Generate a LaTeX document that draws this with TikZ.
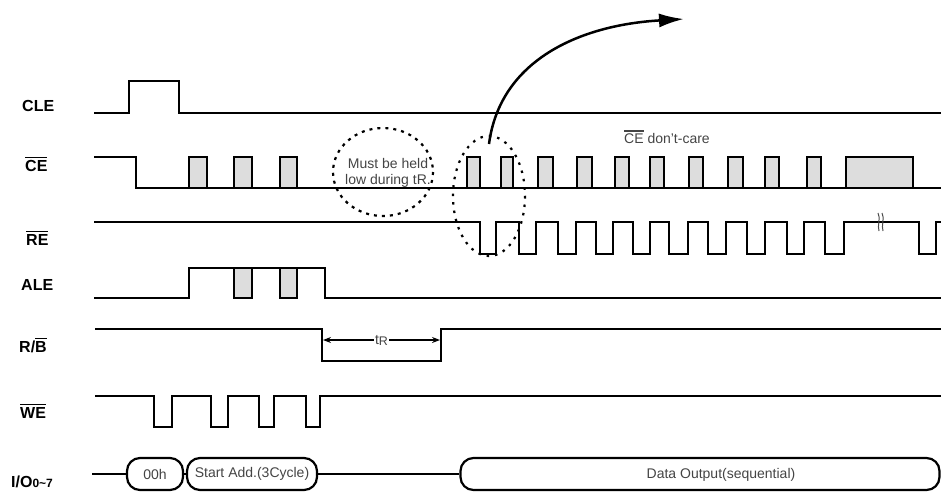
\documentclass[tikz,border=0pt]{standalone}
\usepackage{fontspec}
\setmainfont{Liberation Sans}
\usetikzlibrary{arrows.meta}
\definecolor{pulsegray}{HTML}{DDDDDD}
\definecolor{txtgray}{HTML}{444444}
\newcommand\ovl[1]{\setbox0\hbox{#1}\rlap{\raisebox{\dimexpr\ht0+1.6pt\relax}{\rule{\wd0}{1.3pt}}}\box0\relax}
\begin{document}
\begin{tikzpicture}[x=1pt,y=-1pt,
  sig/.style={line width=2.6pt, line join=miter},
  sigthin/.style={line width=1.7pt},
  lbl/.style={anchor=base west, inner sep=0pt, font=\fontsize{16}{19}\selectfont\bfseries},
  note/.style={inner sep=0pt, text=txtgray, font=\fontsize{14}{16}\selectfont},
  bubble/.style={draw, line width=2.2pt, rounded corners=13pt, minimum height=32pt, inner sep=0pt, text=txtgray, font=\fontsize{14}{16}\selectfont},
  pulsebox/.style={fill=pulsegray},
  hold/.style={line width=2.2pt, dash pattern=on 3pt off 5pt},
  timing/.style={line width=1.1pt, {Stealth[length=8pt,width=6pt]}-{Stealth[length=8pt,width=6pt]}}
]
\useasboundingbox (0,0) rectangle (941,491);

% labels
\node[lbl] (lcle) at (22,111) {CLE};
\node[lbl] (lce) at (25,171) {\ovl{CE}};
\node[lbl] (lre) at (26,245) {\ovl{RE}};
\node[lbl] (lale) at (21,290) {ALE};
\node[lbl] (lrb) at (19,352) {R/\ovl{B}};
\node[lbl] (lwe) at (20,418) {\ovl{WE}};
\node[lbl] (lio) at (11,487) {I/O{\fontsize{12}{13}\selectfont 0\textasciitilde 7}};

% CLE
\draw[sig] (94,113) -- (129,113) -- (129,81) -- (179,81) -- (179,113) -- (941,113);

% CE
\foreach \a/\b in {189/207,234/252,280/297,467/480,501/513,538/553,577/592,615/629,650/664,689/703,728/743,765/779,807/821,846/913}{
  \fill[pulsebox] (\a,157) rectangle (\b,188);
  \draw[sig] (\a,188) -- (\a,157) -- (\b,157) -- (\b,188);
}
\draw[sig] (94,157) -- (136,157) -- (136,188);
\draw[sigthin] (135,188) -- (941,188);
\node[note, anchor=base] (dc) at (667,143) {\ovl{CE} don't-care};

% RE
\draw[sig] (94,222) foreach \a/\b in {480/496,519/536,558/576,596/613,633/650,669/688,708/726,747/765,787/804,825/844,919/936} { -- (\a,222) -- (\a,254) -- (\b,254) -- (\b,222) } -- (941,222);
\draw[black!70, line width=1pt] (878,213) .. controls (881,218) and (877,226) .. (879,231);
\draw[black!70, line width=1pt] (882,213) .. controls (885,218) and (881,226) .. (883,231);

% ALE
\foreach \a/\b in {234/252,280/297}{
  \filldraw[pulsebox, sig] (\a,268) rectangle (\b,298);
}
\draw[sig] (94,298) -- (189,298) -- (189,268) -- (325,268) -- (325,298) -- (941,298);

% R/B
\draw[sig] (95,329) -- (322,329) -- (322,361) -- (441,361) -- (441,329) -- (941,329);
\coordinate (tra) at (323,340);
\coordinate (trb) at (440,340);
\draw[timing] (tra) -- (trb) node[midway, fill=white, inner sep=1pt, text=txtgray, font=\fontsize{14}{16}\selectfont] (tr) {t\raisebox{-1pt}{\fontsize{12.5}{13}\selectfont R}};

% WE
\draw[sig, line width=2.2pt] (95,396) foreach \a/\b in {154/172,211/228,259/274,306/320} { -- (\a,396) -- (\a,427) -- (\b,427) -- (\b,396) } -- (941,396);

% I/O
\coordinate (iostart) at (92,474);
\node[bubble, minimum width=56pt] (b1) at (155,474) {00h};
\node[bubble, minimum width=130pt] (b2) at (252,474) {Start Add.(3Cycle)};
\node[bubble, minimum width=479pt] (b3) at (700,474) {};
\node[note] (b3t) at (721,475) {Data Output(sequential)};
\draw[line width=1.7pt] (iostart) -- (b1.west);
\draw[line width=1.7pt] (b1.east) -- (b2.west);
\draw[line width=1.7pt] (b2.east) -- (b3.west);

% hold circles
\draw[hold] (383,172) ellipse [x radius=50, y radius=44];
\node[note, anchor=base] (m1) at (388,168) {Must be held};
\node[note, anchor=base] (m2) at (388,184) {low during tR.};
\draw[hold, dash pattern=on 2.5pt off 6pt] (489,196) ellipse [x radius=36, y radius=60];

% arrow
\coordinate (arrs) at (489,144);
\coordinate (arre) at (684,19);
\draw[line width=2.5pt, -{Latex[length=25pt,width=14pt]}] (arrs) .. controls (500,60) and (580,25) .. (arre);
\end{tikzpicture}
\end{document}
